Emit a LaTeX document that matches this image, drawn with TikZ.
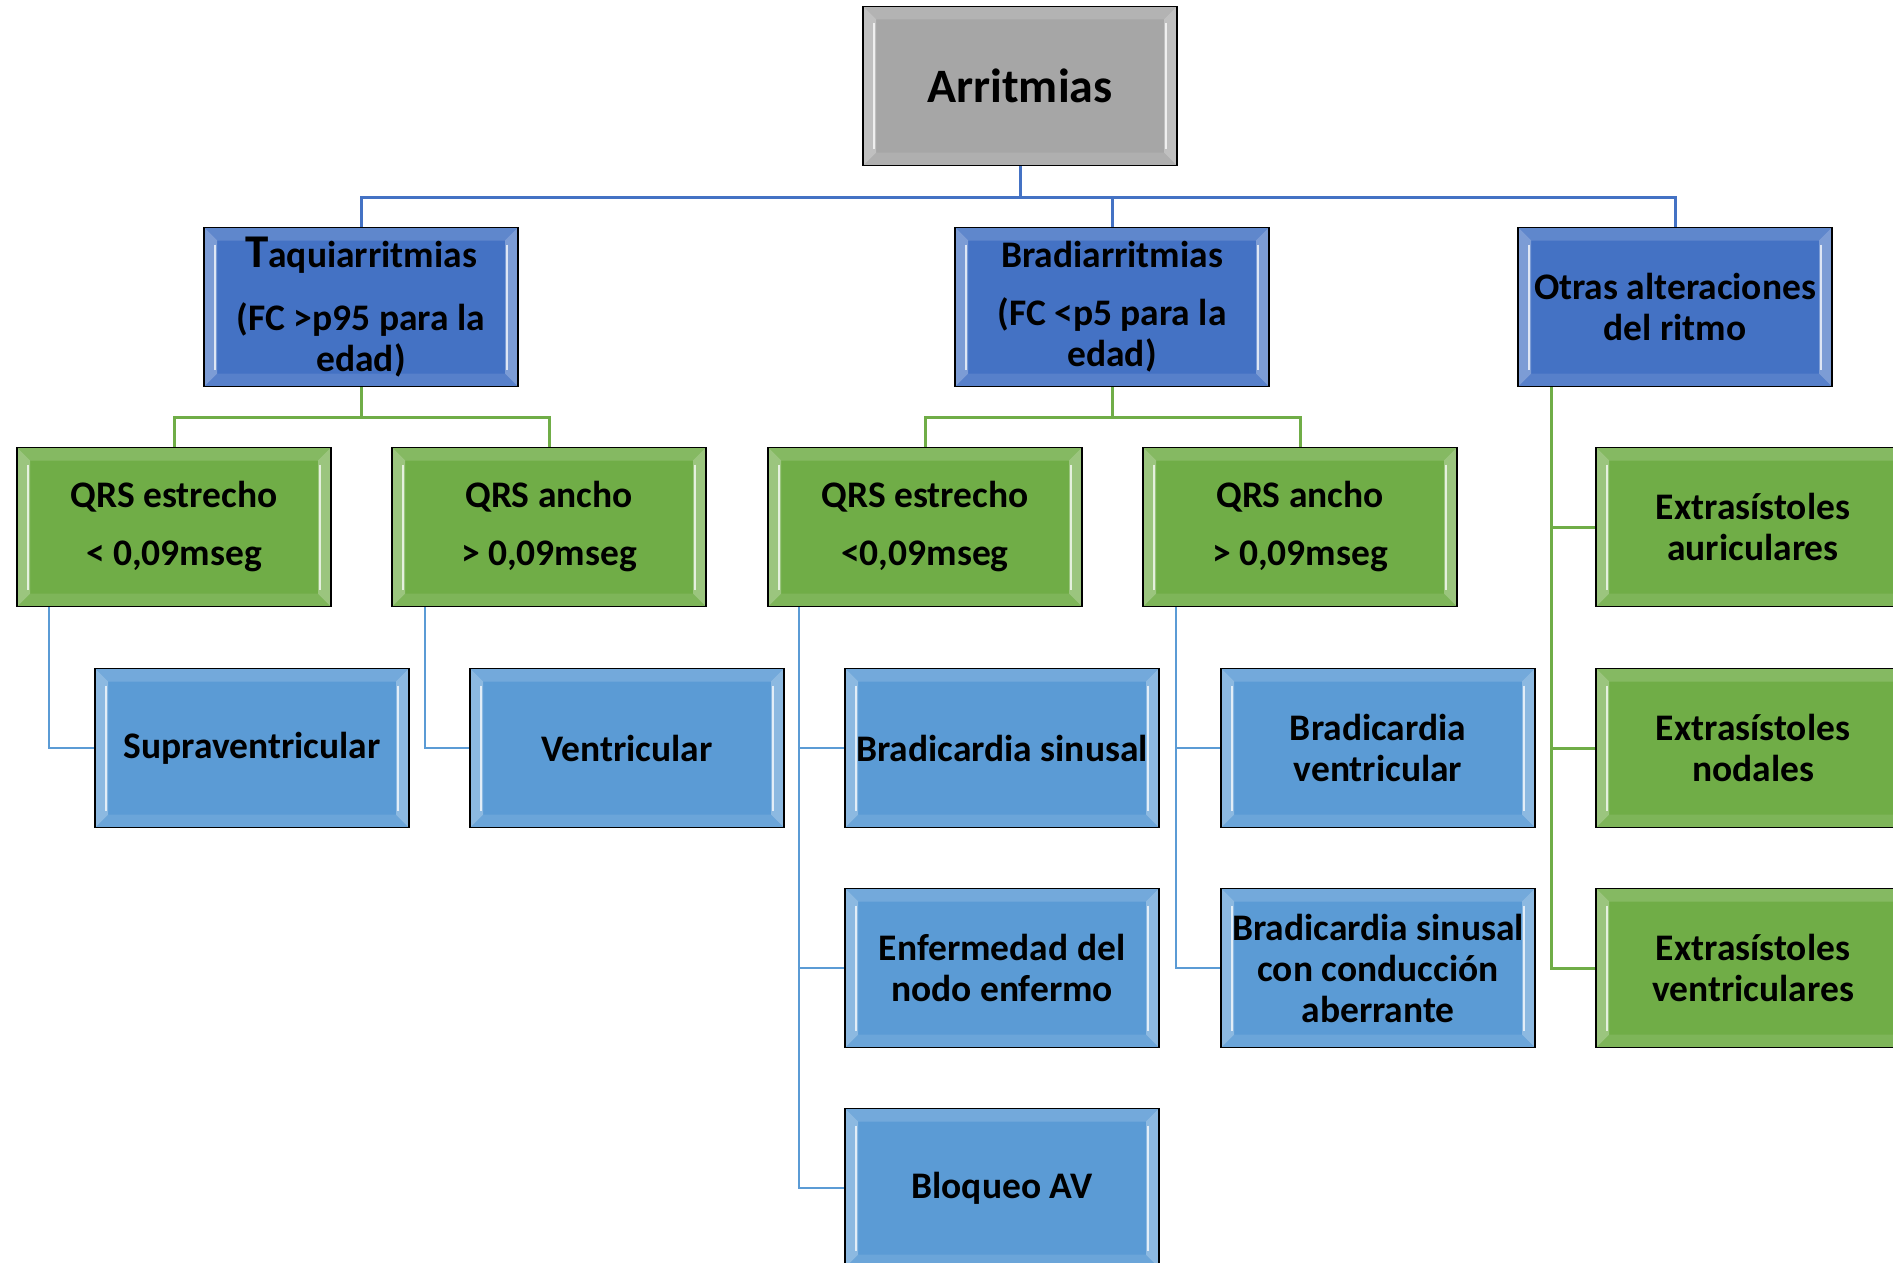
\documentclass[tikz,border=0pt]{standalone}
\usepackage{fontspec}
\setmainfont{Carlito}
\usepackage{xcolor}
\usepackage{tikz}
\usetikzlibrary{
	arrows.meta,
	calc,
	positioning
}
\definecolor{ArrGray}{RGB}{166,166,166}
\definecolor{MainBlue}{RGB}{68,114,196}
\definecolor{LightBlue}{RGB}{91,155,213}
\definecolor{LeafGreen}{RGB}{112,173,71}

\tikzset{
	bevel/.style={path picture={
		\coordinate (sw) at (path picture bounding box.south west);
		\coordinate (se) at (path picture bounding box.south east);
		\coordinate (nw) at (path picture bounding box.north west);
		\coordinate (ne) at (path picture bounding box.north east);
		\fill[white, opacity=.3] (nw) -- ([shift={(13pt,-13pt)}]nw) -- ([shift={(13pt,13pt)}]sw) -- (sw) -- cycle;
		\fill[white, opacity=.3] (ne) -- ([shift={(-13pt,-13pt)}]ne) -- ([shift={(-13pt,13pt)}]se) -- (se) -- cycle;
		\fill[white, opacity=.15] (nw) -- (ne) -- ([shift={(-13pt,-13pt)}]ne) -- ([shift={(13pt,-13pt)}]nw) -- cycle;
		\fill[white, opacity=.1] (sw) -- (se) -- ([shift={(-13pt,13pt)}]se) -- ([shift={(13pt,13pt)}]sw) -- cycle;
		\draw[white, opacity=.75, line width=2pt] ([shift={(11pt,-17pt)}]nw) -- ([shift={(11pt,17pt)}]sw);
		\draw[white, opacity=.75, line width=2pt] ([shift={(-11pt,-17pt)}]ne) -- ([shift={(-11pt,17pt)}]se);
	}}
}

\begin{document}
\begin{tikzpicture}[x=1pt, y=-1pt,
	box/.style={draw=black, line width=1.5pt, minimum width=314pt, minimum height=159pt,
		inner sep=0pt, align=center, font=\bfseries\fontsize{37.5}{41}\selectfont, bevel},
	root/.style={box, fill=ArrGray, font=\bfseries\fontsize{48}{54}\selectfont},
	group/.style={box, fill=MainBlue},
	qrs/.style={box, fill=LeafGreen},
	leaf/.style={box, fill=LightBlue},
	extra/.style={box, fill=LeafGreen},
	linkA/.style={MainBlue, line width=3pt},
	linkB/.style={LeafGreen, line width=3pt},
	linkC/.style={LightBlue, line width=2.8pt}]
	\useasboundingbox (0,0) rectangle (1893,1263);
	\clip (0,0) rectangle (1893,1263);
	
	% raiz
	\node[root] (arr) at (1020,86) {Arritmias};
	
	% primer nivel
	\node[group] (taqui) at (361,307) {{\fontsize{47}{41}\selectfont T}aquiarritmias\\[22pt](FC >p95 para la\\edad)};
	\node[group] (bradi) at (1112,307) {Bradiarritmias\\[17pt](FC <p5 para la\\edad)};
	\node[group] (otras) at (1675,307) {Otras alteraciones\\del ritmo};
	
	% QRS
	\node[qrs] (qrsEt) at (174,527) {QRS estrecho\\[17pt]< 0,09mseg};
	\node[qrs] (qrsAt) at (549,527) {QRS ancho\\[17pt]> 0,09mseg};
	\node[qrs] (qrsEb) at (925,527) {QRS estrecho\\[17pt]<0,09mseg};
	\node[qrs] (qrsAb) at (1300,527) {QRS ancho\\[17pt]> 0,09mseg};
	
	% hojas
	\node[leaf] (supra) at (252,748) {Supraventricular};
	\node[leaf] (ventr) at (627,748) {Ventricular};
	\node[leaf] (bsin) at (1002,748) {Bradicardia sinusal};
	\node[leaf] (enf) at (1002,968) {Enfermedad del\\nodo enfermo};
	\node[leaf] (bloq) at (1002,1188) {Bloqueo AV};
	\node[leaf] (bven) at (1378,748) {Bradicardia\\ventricular};
	\node[leaf] (bsab) at (1378,968) {Bradicardia sinusal\\con conducción\\aberrante};
	
	\node[extra] (exau) at (1753,527) {Extrasístoles\\auriculares};
	\node[extra] (exno) at (1753,748) {Extrasístoles\\nodales};
	\node[extra] (exve) at (1753,968) {Extrasístoles\\ventriculares};
	
	% conectores
	\coordinate (busA) at (1020,197);
	\coordinate (busT) at (361,417);
	\coordinate (busB) at (1112,417);
	\coordinate (otrasL) at (1551,387);
	\coordinate (tEt) at (49,607);
	\coordinate (tAt) at (425,607);
	\coordinate (tEb) at (799,607);
	\coordinate (tAb) at (1176,607);
	
	\draw[linkA] (arr.south) -- (busA);
	\draw[linkA] (taqui.north) |- (busA) -| (otras.north);
	\draw[linkA] (busA) -| (bradi.north);
	
	\draw[linkB] (taqui.south) -- (busT);
	\draw[linkB] (qrsEt.north) |- (busT) -| (qrsAt.north);
	\draw[linkB] (bradi.south) -- (busB);
	\draw[linkB] (qrsEb.north) |- (busB) -| (qrsAb.north);
	\draw[linkB] (otrasL) |- (exve.west);
	\draw[linkB] (otrasL) |- (exau.west);
	\draw[linkB] (otrasL) |- (exno.west);
	
	\draw[linkC] (tEt) |- (supra.west);
	\draw[linkC] (tAt) |- (ventr.west);
	\draw[linkC] (tEb) |- (bloq.west);
	\draw[linkC] (tEb) |- (bsin.west);
	\draw[linkC] (tEb) |- (enf.west);
	\draw[linkC] (tAb) |- (bven.west);
	\draw[linkC] (tAb) |- (bsab.west);
\end{tikzpicture}
\end{document}
